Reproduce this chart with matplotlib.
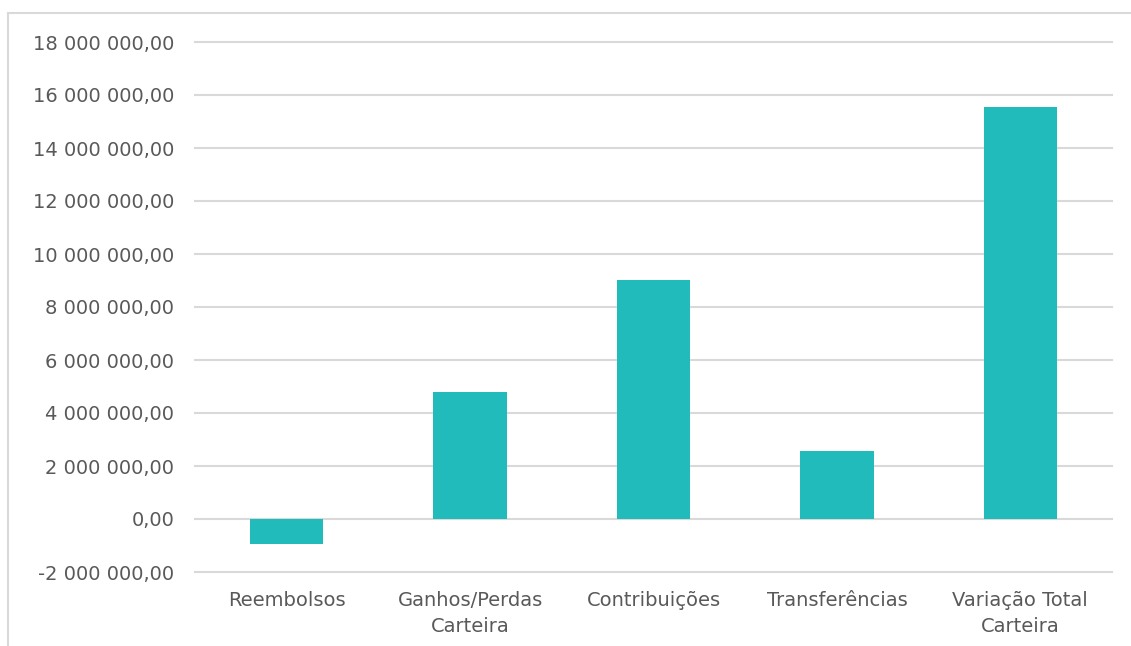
import matplotlib.pyplot as plt
from matplotlib.lines import Line2D
from matplotlib.ticker import FuncFormatter
import numpy as np

categories = ["Reembolsos", "Ganhos/Perdas\nCarteira", "Contribuições",
              "Transferências", "Variação Total\nCarteira"]
values = [-930000, 4800000, 9030000, 2580000, 15550000]
yticks = np.arange(-2000000, 18000001, 2000000)

bar_color = "#22BBBB"
text_color = "#595959"
grid_color = "#D9D9D9"

plt.rcParams['font.family'] = ['DejaVu Sans']

fig = plt.figure(figsize=(11.31, 6.46), dpi=100)
ax = fig.add_axes([195/1131, 74/646, 917/1131, 530/646])

x = np.arange(len(categories))
ax.bar(x, values, width=0.4, color=bar_color, zorder=3)

def fmt(v, pos):
    s = f"{abs(v):,.2f}".replace(",", " ").replace(".", ",")
    return ("-" if v < 0 else "") + s

ax.set_ylim(-2000000, 18000000)
ax.set_xlim(-0.5, len(categories) - 0.5)
ax.set_yticks(yticks)
ax.yaxis.set_major_formatter(FuncFormatter(fmt))
ax.set_xticks(x)
ax.set_xticklabels(categories, linespacing=1.45)
ax.tick_params(axis='y', length=0, pad=15, labelsize=14, labelcolor=text_color)
ax.tick_params(axis='x', length=0, pad=14, labelsize=14, labelcolor=text_color)
ax.grid(axis='y', color=grid_color, linewidth=1.5, zorder=0)
for line in ax.get_ygridlines():
    line.set_clip_on(False)
for s in ax.spines.values():
    s.set_visible(False)

# chart area border (top and left edges visible)
fig.add_artist(Line2D([8/1131, 1], [1 - 13/646, 1 - 13/646], color=grid_color, linewidth=1.5))
fig.add_artist(Line2D([8/1131, 8/1131], [0, 1 - 13/646], color=grid_color, linewidth=1.5))

fig.savefig("out.png", dpi=100)
